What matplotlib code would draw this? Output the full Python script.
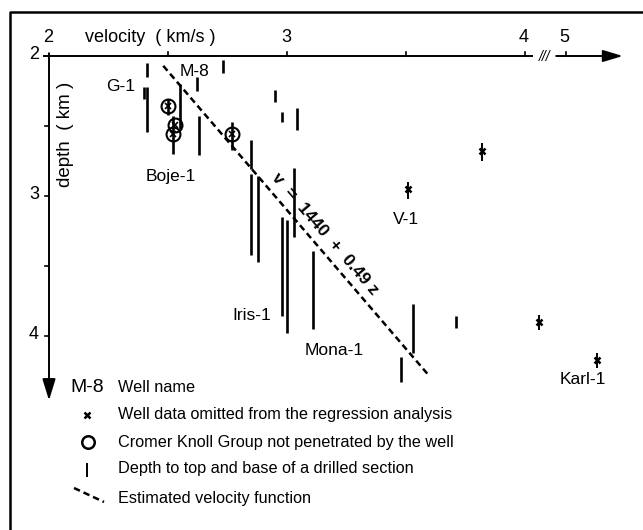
import matplotlib
matplotlib.use("Agg")
import matplotlib.pyplot as plt
import numpy as np

plt.rcParams['font.family'] = ['Liberation Sans', 'DejaVu Sans']

# drilled sections: velocity (km/s), depth to top and base (km)
sec_v    = [2.41, 2.41, 2.40, 2.50, 2.55, 2.52, 2.62, 2.63, 2.73, 2.77, 2.85, 2.95,
            2.98, 3.04, 2.85, 2.88, 3.03, 2.98, 3.00, 3.11, 3.53, 3.48, 3.71]
sec_top  = [2.05, 2.22, 2.22, 2.31, 2.20, 2.43, 2.15, 2.43, 2.03, 2.47, 2.60, 2.24,
            2.40, 2.37, 2.84, 2.86, 2.80, 3.15, 3.17, 3.39, 3.77, 4.15, 3.86]
sec_base = [2.15, 2.54, 2.31, 2.42, 2.52, 2.70, 2.25, 2.71, 2.12, 2.67, 2.81, 2.33,
            2.47, 2.53, 3.42, 3.47, 3.29, 3.86, 3.98, 3.95, 4.12, 4.33, 3.94]

# Cromer Knoll Group not penetrated
ck_v = [2.50, 2.53, 2.52, 2.77]
ck_z = [2.36, 2.49, 2.56, 2.56]

# wells omitted from the regression
om_v    = [3.51, 3.82, 4.06, 5.13]
om_z    = [2.95, 2.68, 3.90, 4.17]
om_top  = [2.90, 2.62, 3.85, 4.12]
om_base = [3.02, 2.75, 3.96, 4.23]

# estimated velocity function v = 1440 + 0.49 z (drawn end points)
vf_v = [2.48, 3.59]
vf_z = [2.07, 4.27]

# well names
well_names = ['G-1', 'M-8', 'Boje-1', 'Iris-1', 'Mona-1', 'V-1', 'Karl-1']
well_v     = [2.30, 2.61, 2.51, 2.85, 3.20, 3.50, 5.07]
well_z     = [2.22, 2.11, 2.86, 3.85, 4.10, 3.17, 4.31]

xtick_v      = [2.5, 3.0, 3.5, 4.0, 5.0]
xtick_labels = ['2', '3', '4', '5']
xtick_lab_v  = [2.0, 3.0, 4.0, 5.0]
ytick_z      = [2.5, 3.0, 3.5, 4.0]
ytick_labels = ['2', '3', '4']
ytick_lab_z  = [2.0, 3.0, 4.0]

# broken axis: everything past 4 km/s is shifted left
def to_u(v):
    v = np.asarray(v, dtype=float)
    return np.where(v > 4.5, v - 5.0 + 4.171, v)

fig = plt.figure(figsize=(6.43, 5.30), dpi=100)
ax = fig.add_axes([0, 0, 1, 1])
ax.set_xlim(1.7941, 4.4958)
ax.set_ylim(5.3857, 1.6)
ax.axis('off')

# frame of the figure (pixel coordinates)
lay = fig.add_axes([0, 0, 1, 1], facecolor='none')
lay.set_xlim(0, 643)
lay.set_ylim(530, 0)
lay.axis('off')
lay.plot([10, 10, 643], [530, 12, 12], color='black', lw=1.8, solid_capstyle='butt')

# axes lines
ax.plot(to_u([1.98, 4.03]), [2, 2], color='black', lw=1.4)
ax.annotate('', xy=(to_u(5.24), 2), xytext=(to_u(4.96), 2),
            arrowprops=dict(arrowstyle='-|>,head_length=0.6,head_width=0.18',
                            color='black', lw=1.4, mutation_scale=20, shrinkA=0, shrinkB=0))
ax.text((to_u(4.03) + to_u(4.96)) / 2, 2.01, '///', ha='center', va='center',
        fontsize=10, style='italic')
ax.annotate('', xy=(2, 4.46), xytext=(2, 1.98),
            arrowprops=dict(arrowstyle='-|>,head_length=0.65,head_width=0.2',
                            color='black', lw=1.4, mutation_scale=20, shrinkA=0, shrinkB=0))

tx = 4.5 / 238
tz = 4.5 / 140
for v in xtick_v:
    ax.plot([to_u(v)] * 2, [2, 2 - tz], color='black', lw=1.2)
for z in ytick_z:
    ax.plot([2, 2 - tx], [z, z], color='black', lw=1.2)
ax.plot([2 - tx, 2], [2, 2], color='black', lw=1.2)
for lab, v in zip(xtick_labels, xtick_lab_v):
    ax.annotate(lab, (to_u(v), 2), xytext=(-1, 19), textcoords='offset pixels',
                ha='center', va='center', fontsize=13)
for lab, z in zip(ytick_labels, ytick_lab_z):
    ax.annotate(lab, (2, z), xytext=(-15, 2), textcoords='offset pixels',
                ha='center', va='center', fontsize=13)
ax.annotate('velocity  ( km/s )', (2, 2), xytext=(101, 19), textcoords='offset pixels',
            ha='center', va='center', fontsize=13)
ax.annotate('depth  ( km )', (2, 2), xytext=(16, -78), textcoords='offset pixels',
            ha='center', va='center', fontsize=13.5, rotation=90)

# drilled sections
ax.vlines(to_u(sec_v), sec_top, sec_base, color='black', lw=1.9)

# omitted wells
ax.vlines(to_u(om_v), om_top, om_base, color='black', lw=1.4)
ax.plot(to_u(om_v), om_z, ls='none', marker='x', ms=4.5, mew=1.8, color='black')

# Cromer Knoll circles
ax.plot(ck_v, ck_z, ls='none', marker='o', ms=10, mfc='none', mec='black', mew=1.5)
ax.plot(ck_v, ck_z, ls='none', marker='x', ms=5, mew=1.2, color='black')

# velocity function
ax.plot(vf_v, vf_z, color='black', lw=1.8, dashes=(2.6, 1.6))
p1 = ax.transData.transform((vf_v[0], vf_z[0]))
p2 = ax.transData.transform((vf_v[1], vf_z[1]))
ang = np.degrees(np.arctan2(p2[1] - p1[1], p2[0] - p1[0]))
ax.text(3.16, 3.27, 'v  =  1440  +  0.49 z', rotation=ang, rotation_mode='anchor',
        ha='center', va='center', fontsize=12.5, fontweight='bold')

# well names
for name, v, z in zip(well_names, well_v, well_z):
    ax.text(to_u(v), z, name, ha='center', va='center', fontsize=12.5)

# legend
lay.text(87, 387, 'M-8', ha='center', va='center', fontsize=14)
lay.plot([87], [415], ls='none', marker='x', ms=4.5, mew=1.8, color='black')
lay.plot([88], [442], ls='none', marker='o', ms=9, mfc='none', mec='black', mew=1.8)
lay.plot([87, 87], [464, 476], color='black', lw=1.4)
lay.plot([74, 104], [488, 502], color='black', lw=1.8, dashes=(2.6, 1.6))
leg_texts = ['Well name',
             'Well data omitted from the regression analysis',
             'Cromer Knoll Group not penetrated by the well',
             'Depth to top and base of a drilled section',
             'Estimated velocity function']
leg_y = [388, 415, 442, 469, 498]
for t, y in zip(leg_texts, leg_y):
    lay.text(118, y, t, ha='left', va='center', fontsize=11.7)

fig.savefig('out.png', dpi=100, facecolor='white')
